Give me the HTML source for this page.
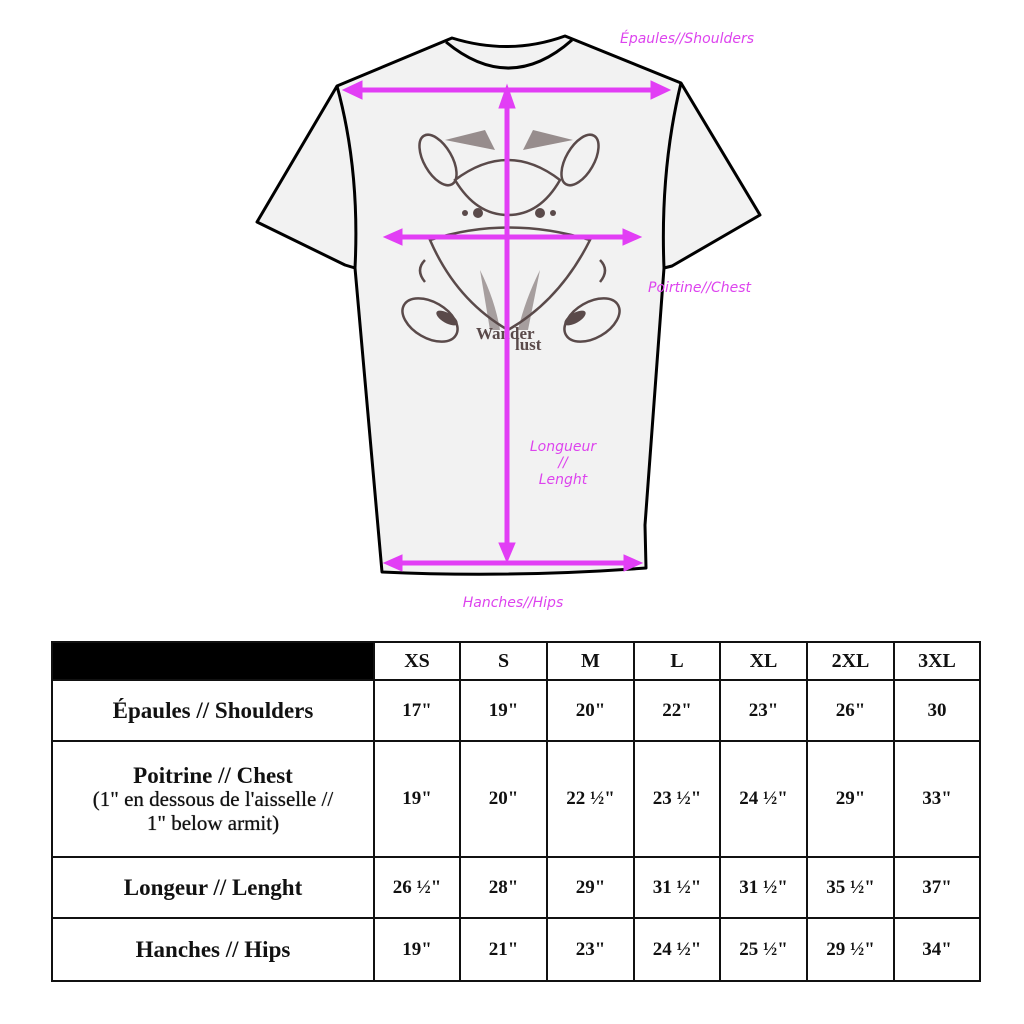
<!DOCTYPE html>
<html><head><meta charset="utf-8"><style>
html,body{margin:0;padding:0;background:#fff;width:1024px;height:1024px;overflow:hidden}
svg{position:absolute;left:0;top:0}
.lbl{font-family:"DejaVu Sans","Liberation Sans",sans-serif;font-style:italic;font-size:14px;fill:#dd44ee}
table{position:absolute;left:51px;top:641px;width:928px;table-layout:fixed;border-collapse:collapse;font-family:"Liberation Serif",serif;font-weight:bold;color:#111}
td{border:2px solid #111;text-align:center;padding:0;font-size:20px}
td.n{font-size:19px;font-weight:bold}
</style></head><body>
<svg width="1024" height="640" viewBox="0 0 1024 640">
<path d="M452,38 L337,86 L257,222 L345,265 L355,268 L382,572 Q510,578 646,568 L645,525 L664,268 L672,266 L760,215 L681,83 L565,36 Q510,56 452,38 Z" fill="#f2f2f2" stroke="#000" stroke-width="3" stroke-linejoin="round"/>
<path d="M446,42 Q510,95 572,40" fill="none" stroke="#000" stroke-width="3"/>
<path d="M337,86 Q360,170 355,268" fill="none" stroke="#000" stroke-width="3"/>
<path d="M681,83 Q660,170 664,268" fill="none" stroke="#000" stroke-width="3"/>
<g fill="none" stroke="#5a4a4a" stroke-width="2.5">
<ellipse cx="438" cy="160" rx="14" ry="28" transform="rotate(-30 438 160)"/>
<ellipse cx="580" cy="160" rx="14" ry="28" transform="rotate(30 580 160)"/>
<path d="M455,180 Q508,140 560,180 Q540,215 508,215 Q476,215 455,180Z"/>
<path d="M430,240 Q508,215 590,240 Q560,300 508,330 Q456,300 430,240Z"/>
<ellipse cx="430" cy="320" rx="30" ry="18" transform="rotate(30 430 320)"/>
<ellipse cx="592" cy="320" rx="30" ry="18" transform="rotate(-30 592 320)"/>
<path d="M425,260 Q415,270 425,282"/><path d="M600,260 Q610,270 600,282"/>
</g>
<g fill="#5a4a4a">
<circle cx="465" cy="213" r="3"/><circle cx="478" cy="213" r="5"/><circle cx="540" cy="213" r="5"/><circle cx="553" cy="213" r="3"/>
<ellipse cx="447" cy="318" rx="12" ry="5" transform="rotate(30 447 318)"/><ellipse cx="575" cy="318" rx="12" ry="5" transform="rotate(-30 575 318)"/>
<path d="M445,140 L495,150 L485,130Z" opacity="0.6"/><path d="M573,140 L523,150 L533,130Z" opacity="0.6"/>
<path d="M480,270 Q495,300 500,330 L490,330Z" opacity="0.5"/><path d="M540,270 Q525,300 518,330 L528,330Z" opacity="0.5"/>
</g>
<text x="476" y="339" font-family="Liberation Serif,serif" font-weight="bold" font-size="17" fill="#5a4a4a">Wander</text>
<text x="515" y="350" font-family="Liberation Serif,serif" font-weight="bold" font-size="17" fill="#5a4a4a">lust</text>
<g fill="#e23ef5" stroke="#e23ef5">
<line x1="355" y1="90" x2="658" y2="90" stroke-width="5"/>
<path d="M343,90 L362,81 L362,99Z"/><path d="M670,90 L651,81 L651,99Z"/>
<line x1="396" y1="237" x2="630" y2="237" stroke-width="5"/>
<path d="M384,237 L402,229 L402,245Z"/><path d="M641,237 L623,229 L623,245Z"/>
<line x1="395" y1="563" x2="630" y2="563" stroke-width="5"/>
<path d="M384,563 L402,555 L402,571Z"/><path d="M642,563 L624,555 L624,571Z"/>
<line x1="507" y1="98" x2="507" y2="552" stroke-width="5"/>
<path d="M507,85 L499,108 L515,108Z"/><path d="M507,562 L499,543 L515,543Z"/>
</g>
<text class="lbl" x="620" y="43">Épaules//Shoulders</text>
<text class="lbl" x="648" y="292">Poirtine//Chest</text>
<text class="lbl" x="563" y="451" text-anchor="middle">Longueur</text>
<text class="lbl" x="563" y="467" text-anchor="middle">//</text>
<text class="lbl" x="563" y="484" text-anchor="middle">Lenght</text>
<text class="lbl" x="513" y="607" text-anchor="middle">Hanches//Hips</text>
</svg>
<table>
<colgroup><col style="width:322px"><col style="width:86px"><col style="width:87px"><col style="width:87px"><col style="width:86px"><col style="width:87px"><col style="width:87px"><col style="width:86px"></colgroup>
<tr style="height:38px"><td style="background:#000"></td><td>XS</td><td>S</td><td>M</td><td>L</td><td>XL</td><td>2XL</td><td>3XL</td></tr>
<tr style="height:61px"><td style="font-size:23px">Épaules // Shoulders</td><td class="n">17"</td><td class="n">19"</td><td class="n">20"</td><td class="n">22"</td><td class="n">23"</td><td class="n">26"</td><td class="n">30</td></tr>
<tr style="height:116px"><td style="font-size:23px;line-height:23px">Poitrine // Chest<br><span style="font-weight:normal;font-size:21px;text-shadow:0 0 0.6px #000">(1" en dessous de l'aisselle //<br>1" below armit)</span></td><td class="n">19"</td><td class="n">20"</td><td class="n">22 ½"</td><td class="n">23 ½"</td><td class="n">24 ½"</td><td class="n">29"</td><td class="n">33"</td></tr>
<tr style="height:61px"><td style="font-size:23px">Longeur // Lenght</td><td class="n">26 ½"</td><td class="n">28"</td><td class="n">29"</td><td class="n">31 ½"</td><td class="n">31 ½"</td><td class="n">35 ½"</td><td class="n">37"</td></tr>
<tr style="height:63px"><td style="font-size:23px">Hanches // Hips</td><td class="n">19"</td><td class="n">21"</td><td class="n">23"</td><td class="n">24 ½"</td><td class="n">25 ½"</td><td class="n">29 ½"</td><td class="n">34"</td></tr>
</table>
</body></html>
